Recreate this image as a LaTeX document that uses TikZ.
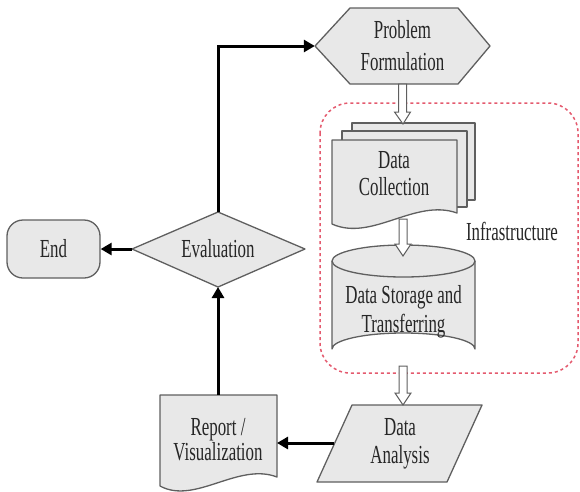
\documentclass[tikz,border=0pt]{standalone}
\usepackage{fontspec}
\setmainfont{Liberation Serif}[FakeStretch=0.65]
\usetikzlibrary{arrows.meta,calc}
\definecolor{boxfill}{RGB}{232,232,232}
\definecolor{boxline}{RGB}{95,95,95}
\definecolor{infra}{RGB}{228,90,110}
\tikzset{
  shp/.style={fill=boxfill, draw=boxline, line width=1.3pt, line join=round},
  lbl/.style={align=center, font=\fontsize{26}{29}\selectfont, inner sep=0pt, text=black!85},
  flow/.style={line width=3pt, draw=black, -{Triangle[length=11pt,width=12pt]}},
  hollow/.style={fill=white, draw=boxline, line width=1pt, line join=miter},
  infrabox/.style={draw=infra, line width=1.5pt, dash pattern=on 3pt off 3pt, rounded corners=30pt},
}
\newcommand\hollowarrow[2]{%
  \path[hollow] let \p1=(#1), \p2=(#2) in
    (\x1-4pt,\y1) -- (\x1+4pt,\y1) -- (\x1+4pt,\y2+12pt) -- (\x1+8pt,\y2+12pt)
    -- (\x2,\y2) -- (\x1-8pt,\y2+12pt) -- (\x1-4pt,\y2+12pt) -- cycle;}
\begin{document}
\begin{tikzpicture}[x=1pt,y=-1pt]
\path[use as bounding box] (0,0) rectangle (580,491);

% infrastructure dashed box
\draw[infrabox] (320,103) rectangle (578,373);
\node[lbl] (infl) at (512,231) {Infrastructure};

% Problem Formulation (hexagon)
\draw[shp] (315,46) -- (350,8) -- (458,8) -- (490,46) -- (458,84) -- (350,84) -- cycle;
\node[lbl, font=\fontsize{26}{32}\selectfont, minimum width=175pt, minimum height=76pt] (pf) at (402.5,46) {Problem\\Formulation};

% Data Collection (multi document)
\draw[shp] (352,123) rectangle (475,200);
\draw[shp] (342,131) rectangle (467,207);
\draw[shp] (332,140) -- (457,140) -- (457,213)
   .. controls (415,198) and (372,242) .. (332,224) -- cycle;
\node[lbl, font=\fontsize{26}{27}\selectfont] (dc) at (394,174) {Data\\Collection};
\coordinate (dcT) at (403,124);
\coordinate (dcB) at (403,219);

% Data Storage and Transferring (cylinder)
\draw[shp] (332,261) -- (332,349) arc[start angle=180, end angle=360, x radius=71.5, y radius=16]
   -- (475,261);
\draw[shp] (403.5,261) ellipse[x radius=71.5, y radius=16];
\node[lbl] (ds) at (403.5,312) {Data Storage and\\Transferring};
\coordinate (dsT) at (403,256);
\coordinate (dsB) at (403,366);

% Data Analysis (parallelogram)
\draw[shp] (352,405) -- (482,405) -- (447,482) -- (317,482) -- cycle;
\node[lbl, font=\fontsize{26}{28}\selectfont] (da) at (400,444) {Data\\Analysis};
\coordinate (daT) at (403,405);
\coordinate (daL) at (334,443);

% Report / Visualization (document)
\draw[shp] (160,395) -- (277,395) -- (277,477)
   .. controls (238,462) and (195,505) .. (160,486) -- cycle;
\node[lbl, font=\fontsize{26}{25}\selectfont] (rv) at (218,440) {Report /\\Visualization};
\coordinate (rvT) at (218,395);
\coordinate (rvR) at (277,443);

% Evaluation (diamond)
\draw[shp] (132,249) -- (218,212) -- (305,249) -- (218,287) -- cycle;
\node[lbl] (ev) at (218,249) {Evaluation};
\coordinate (evN) at (218,212);
\coordinate (evS) at (218,287);
\coordinate (evW) at (132,249);

% End (terminal)
\node[shp, rounded corners=16pt, minimum width=93pt, minimum height=58pt, lbl] (end) at (53.5,249) {End};

% hollow arrows
\hollowarrow{pf.south}{dcT}
\hollowarrow{dcB}{dsT}
\hollowarrow{dsB}{daT}

% black flow arrows
\draw[flow] (daL) -- (rvR);
\draw[flow] (rvT) -- (evS);
\draw[flow] (evW) -- (end.east);
\draw[flow] (evN) |- (pf.west);
\end{tikzpicture}
\end{document}
